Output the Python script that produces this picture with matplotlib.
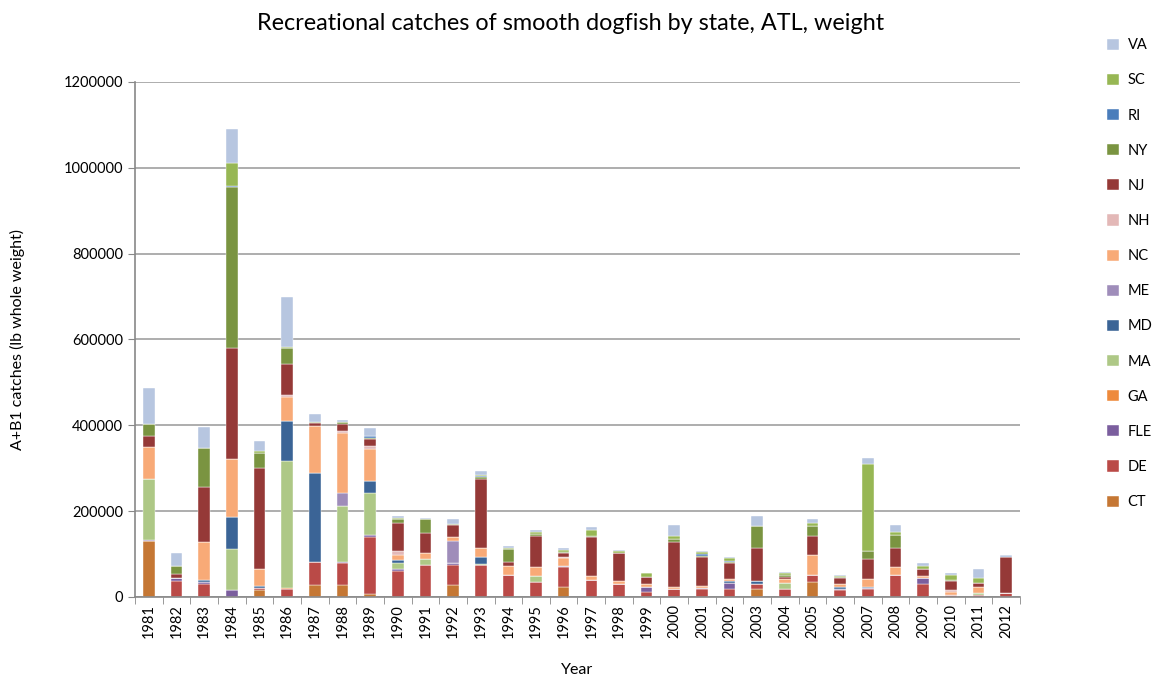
import numpy as np
import matplotlib.pyplot as plt

plt.rcParams['font.family'] = ['Lato', 'DejaVu Sans']

# Data (thousands of lb)
years = [str(y) for y in range(1981, 2013)]

CT  = [130, 0, 0, 1, 16, 0, 28, 28, 6, 0, 0, 28, 0, 0, 0, 24, 0, 0, 0, 0, 0, 0, 18, 0, 35, 0, 0, 0, 0, 0, 0, 0]
DE  = [0, 37, 31, 0, 4, 18, 54, 52, 133, 61, 74, 47, 75, 52, 35, 45, 40, 31, 12, 19, 19, 19, 13, 18, 16, 16, 18, 51, 30, 5, 5, 10]
FLE = [2, 8, 3, 15, 0, 0, 0, 2, 6, 4, 0, 4, 0, 0, 0, 3, 0, 0, 12, 0, 3, 14, 0, 0, 0, 2, 3, 0, 15, 0, 0, 0]
GA  = [0, 0, 0, 0, 0, 2, 0, 0, 0, 0, 0, 0, 0, 0, 0, 0, 0, 0, 0, 0, 0, 0, 0, 0, 0, 0, 0, 0, 0, 0, 0, 0]
MA  = [144, 0, 0, 95, 0, 297, 0, 130, 98, 15, 15, 0, 3, 0, 14, 0, 0, 0, 0, 0, 0, 0, 0, 14, 0, 0, 0, 0, 0, 0, 4, 0]
MD  = [0, 0, 6, 76, 6, 94, 208, 0, 28, 6, 0, 0, 16, 0, 0, 0, 0, 0, 0, 0, 0, 4, 6, 0, 0, 5, 2, 0, 0, 0, 0, 0]
ME  = [0, 0, 0, 0, 0, 0, 0, 31, 0, 0, 0, 52, 0, 0, 0, 0, 0, 0, 0, 0, 0, 0, 0, 0, 0, 0, 0, 0, 0, 0, 0, 0]
NC  = [73, 0, 89, 134, 39, 56, 108, 140, 73, 11, 14, 9, 21, 20, 21, 18, 9, 6, 6, 4, 4, 4, 0, 9, 47, 7, 18, 18, 4, 6, 15, 0]
NH  = [0, 0, 0, 0, 0, 4, 0, 3, 8, 11, 0, 0, 0, 0, 0, 2, 0, 0, 0, 0, 0, 0, 0, 0, 0, 0, 0, 0, 0, 5, 0, 0]
NJ  = [25, 9, 128, 258, 235, 73, 7, 17, 15, 65, 46, 27, 160, 10, 73, 11, 90, 65, 17, 105, 67, 39, 78, 6, 45, 15, 48, 46, 16, 22, 9, 84]
NY  = [28, 19, 91, 376, 35, 35, 3, 5, 3, 8, 32, 2, 4, 29, 3, 2, 2, 0, 0, 8, 3, 2, 51, 5, 23, 1, 18, 30, 0, 1, 0, 0]
RI  = [0, 0, 0, 3, 0, 0, 0, 0, 4, 0, 0, 0, 3, 0, 0, 0, 0, 0, 0, 0, 5, 2, 0, 0, 0, 0, 0, 0, 0, 0, 0, 1]
SC  = [0, 0, 0, 54, 4, 3, 0, 0, 2, 3, 0, 2, 2, 3, 6, 5, 15, 4, 8, 6, 3, 6, 0, 3, 7, 3, 204, 7, 8, 12, 12, 0]
VA  = [84, 29, 49, 78, 24, 116, 18, 4, 18, 5, 4, 10, 10, 5, 4, 4, 7, 4, 0, 25, 4, 2, 23, 4, 8, 3, 14, 15, 6, 5, 21, 3]

states = ['CT', 'DE', 'FLE', 'GA', 'MA', 'MD', 'ME', 'NC', 'NH', 'NJ', 'NY', 'RI', 'SC', 'VA']
series = [CT, DE, FLE, GA, MA, MD, ME, NC, NH, NJ, NY, RI, SC, VA]
colors = ['#C57734', '#BA4A47', '#7B5E9E', '#EE8A3C', '#AEC886', '#3B6496', '#9F8DBA',
          '#F8AA77', '#E3B8B7', '#953937', '#7A9441', '#4A7DBB', '#97B754', '#B7C6E0']

fig = plt.figure(figsize=(11.74, 6.77), dpi=100)
ax = fig.add_axes([0.115, 0.1182, 0.7538, 0.7607])

x = np.arange(len(years))
bottom = np.zeros(len(years))
handles = []
for name, vals, col in zip(states, series, colors):
    v = np.array(vals) * 1000
    b = ax.bar(x, v, width=0.42, bottom=bottom, color=col, label=name,
               edgecolor='white', linewidth=0.3)
    handles.append(b)
    bottom += v

ax.set_xlim(-0.5, len(years) - 0.5)
ax.set_ylim(0, 1200000)
ax.set_yticks(np.arange(0, 1200001, 200000))
ax.set_yticklabels([str(v) for v in range(0, 1200001, 200000)], fontsize=10.5)
ax.set_xticks(x)
ax.set_xticklabels(years, rotation=90, fontsize=10.5)
ax.set_xticks(np.arange(-0.5, len(years)), minor=True)
ax.tick_params(axis='x', which='major', length=0, pad=5)
ax.tick_params(axis='x', which='minor', length=5, color='#888888')
ax.tick_params(axis='y', length=5, color='#888888')

ax.grid(axis='y', color='#A0A0A0', linewidth=1.2)
ax.set_axisbelow(True)
for s in ['top', 'right']:
    ax.spines[s].set_visible(False)
for s in ['left', 'bottom']:
    ax.spines[s].set_color('#888888')
    ax.spines[s].set_linewidth(1.2)

ax.set_xlabel('Year', fontsize=11.5, labelpad=18)
ax.set_ylabel('A+B1 catches (lb whole weight)', fontsize=11.5, labelpad=28)
fig.text(0.486, 0.966, 'Recreational catches of smooth dogfish by state, ATL, weight',
         ha='center', va='center', fontsize=16.8)

fig.legend(handles[::-1], states[::-1], loc='upper left', bbox_to_anchor=(0.938, 0.952),
           frameon=False, fontsize=10.5, handlelength=0.8, handleheight=0.8,
           handletextpad=0.6, labelspacing=1.45, borderaxespad=0)

fig.savefig('out.png', dpi=100)
